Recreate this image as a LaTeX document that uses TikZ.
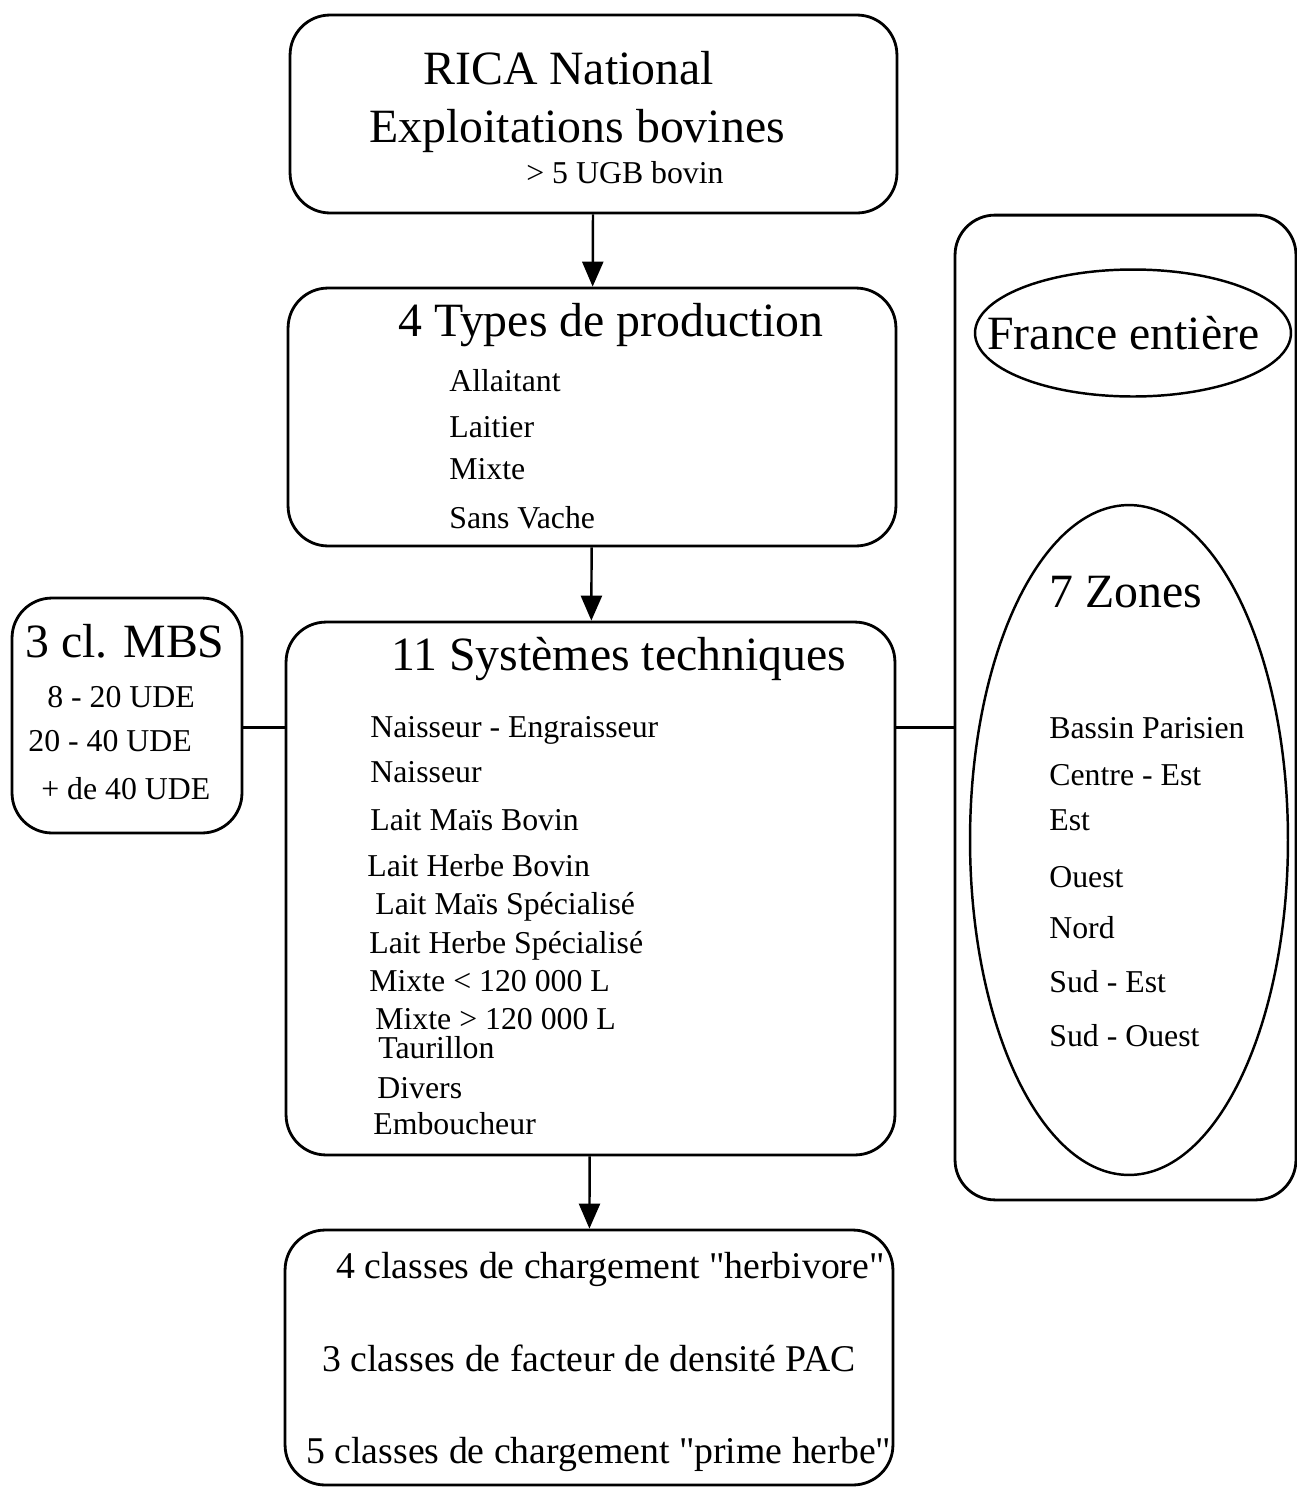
\documentclass[tikz,border=0pt]{standalone}
\usepackage{fontspec}
\setmainfont{Liberation Serif}
\usepackage{tikz}
\usetikzlibrary{positioning}
\usetikzlibrary{shapes.geometric}
\usetikzlibrary{arrows.meta}
\pgfdeclarelayer{nodelayer}
\pgfdeclarelayer{edgelayer}
\pgfsetlayers{nodelayer,edgelayer,main}

\begin{document}
\begin{tikzpicture}[x=0.02cm, y=-0.02cm,
    box/.style={draw, line width=1.6pt, rounded corners=0.8cm, inner sep=0pt},
    oval/.style={draw, ellipse, line width=1.4pt, inner sep=0pt},
    big/.style={anchor=base west, inner sep=0pt, font=\fontsize{27.2}{32}\selectfont},
    mid/.style={anchor=base west, inner sep=0pt, font=\fontsize{21.5}{26}\selectfont},
    small/.style={anchor=base west, inner sep=0pt, font=\fontsize{18.1}{22}\selectfont},
    arrow/.style={-{Triangle[length=0.5cm, width=0.42cm]}, line width=1.4pt}]
  \useasboundingbox (0, 0) rectangle (1297, 1488);
  \begin{pgfonlayer}{nodelayer}
    \node [box, minimum width=12.14cm, minimum height=3.96cm] (0) at (593.5, 114) {};
    \node [box, minimum width=12.16cm, minimum height=5.16cm] (1) at (592, 417) {};
    \node [box, minimum width=12.18cm, minimum height=10.66cm] (2) at (590.5, 888.5) {};
    \node [box, minimum width=12.16cm, minimum height=5.10cm] (3) at (589, 1357.5) {};
    \node [box, minimum width=4.6cm, minimum height=4.7cm] (4) at (127, 715.5) {};
    \node [box, minimum width=6.82cm, minimum height=19.7cm] (5) at (1125.5, 707.5) {};
    \node [oval, minimum width=6.32cm, minimum height=2.54cm] (6) at (1133, 333) {};
    \node [oval, minimum width=6.36cm, minimum height=13.4cm] (7) at (1129, 840) {};
    \coordinate (c) at (0, 727.5);

    \node [big] (8) at (423, 84) {RICA National};
    \node [big] (9) at (369, 142) {Exploitations bovines};
    \node [small] (10) at (526, 183) {> 5 UGB bovin};

    \node [big] (11) at (398, 336) {4 Types de production};
    \node [small] (12) at (449, 391) {Allaitant};
    \node [small] (13) at (449, 437) {Laitier};
    \node [small] (14) at (449, 479) {Mixte};
    \node [small] (15) at (449, 528) {Sans Vache};

    \node [big] (16) at (391, 670) {11 Systèmes techniques};
    \node [small] (17) at (370, 737) {Naisseur - Engraisseur};
    \node [small] (18) at (370, 782) {Naisseur};
    \node [small] (19) at (370, 830) {Lait Maïs Bovin};
    \node [small] (20) at (367, 876) {Lait Herbe Bovin};
    \node [small] (21) at (375, 914) {Lait Maïs Spécialisé};
    \node [small] (22) at (369, 953) {Lait Herbe Spécialisé};
    \node [small] (23) at (369, 991) {Mixte < 120 000 L};
    \node [small] (24) at (375, 1029) {Mixte > 120 000 L};
    \node [small] (25) at (378, 1058) {Taurillon};
    \node [small] (26) at (377, 1098) {Divers};
    \node [small] (27) at (373, 1134) {Emboucheur};

    \node [mid] (28) at (336, 1278) {4 classes de chargement \textquotedbl herbivore\textquotedbl};
    \node [mid] (29) at (322, 1371) {3 classes de facteur de densité PAC};
    \node [mid] (30) at (306, 1463) {5 classes de chargement \textquotedbl prime herbe\textquotedbl};

    \node [big] (31) at (25, 657) {3 cl. MBS};
    \node [small] (32) at (47, 707) {8 - 20 UDE};
    \node [small] (33) at (28, 751) {20 - 40 UDE};
    \node [small] (34) at (41, 799) {+ de 40 UDE};

    \node [big] (35) at (987, 349) {France entière};
    \node [big] (36) at (1049, 607) {7 Zones};
    \node [small] (37) at (1049, 738) {Bassin Parisien};
    \node [small] (38) at (1049, 785) {Centre - Est};
    \node [small] (39) at (1049, 830) {Est};
    \node [small] (40) at (1049, 887) {Ouest};
    \node [small] (41) at (1049, 938) {Nord};
    \node [small] (42) at (1049, 992) {Sud - Est};
    \node [small] (43) at (1049, 1046) {Sud - Ouest};
  \end{pgfonlayer}
  \begin{pgfonlayer}{edgelayer}
    \draw [arrow] (0) to (1);
    \draw [arrow] (1) to (2);
    \draw [arrow] (2) to (3);
    \draw [line width=1.4pt] (4.east |- c) to (2.west |- c);
    \draw [line width=1.4pt] (2.east |- c) to (5.west |- c);
  \end{pgfonlayer}
\end{tikzpicture}
\end{document}
